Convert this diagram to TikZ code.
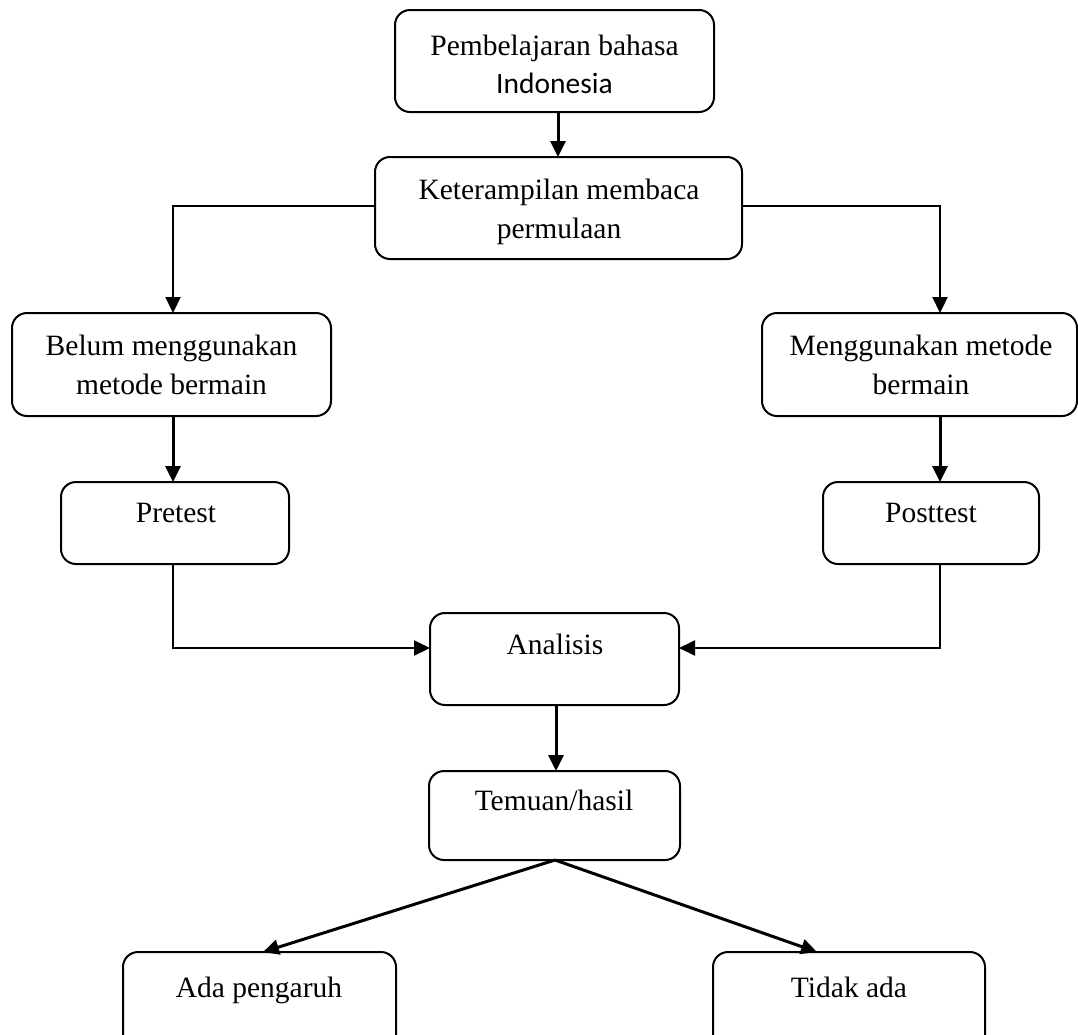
\documentclass[tikz,border=0pt]{standalone}
\usepackage{fontspec}
\setmainfont{Liberation Serif}
\newfontfamily\calfont{Carlito}
\usetikzlibrary{arrows.meta,calc}
\begin{document}
\begin{tikzpicture}[x=1pt,y=-1pt,
  box/.style={draw=black,line width=2pt,rounded corners=15pt,inner sep=0pt,outer sep=0pt},
  txt/.style={anchor=base,inner sep=0pt,font=\fontsize{29.5}{38}\selectfont},
  conn/.style={draw=black,line width=2.2pt,-{Triangle[length=16pt,width=15pt]}},
  arr/.style={draw=black,line width=3pt,-{Triangle[length=16pt,width=15pt]}}]
\useasboundingbox (0,0) rectangle (1078,1034);
\clip (0,0) rectangle (1078,1034);
% boxes
\node[box,minimum width=319pt,minimum height=102pt] (b1) at (554.5,61) {};
\node[box,minimum width=367pt,minimum height=102pt] (b2) at (558.5,208) {};
\node[box,minimum width=319pt,minimum height=103pt] (b3) at (171.5,364.5) {};
\node[box,minimum width=315pt,minimum height=103pt] (b4) at (919.5,364.5) {};
\node[box,minimum width=228pt,minimum height=82pt] (pre) at (175,523) {};
\node[box,minimum width=216pt,minimum height=82pt] (post) at (931,523) {};
\node[box,minimum width=249pt,minimum height=92pt] (ana) at (554.5,659) {};
\node[box,minimum width=251pt,minimum height=89pt] (tem) at (554.5,815.5) {};
\node[box,minimum width=273pt,minimum height=100pt] (ada) at (259.5,1002) {};
\node[box,minimum width=272pt,minimum height=100pt] (tid) at (849,1002) {};
% texts
\node[txt] (t1a) at (554.5,55) {Pembelajaran bahasa};
\node[txt] (t1b) at (554.5,93) {\calfont Indonesia};
\node[txt] (t2a) at (559,199) {Keterampilan membaca};
\node[txt] (t2b) at (559,238) {permulaan};
\node[txt] (t3a) at (171.5,355) {Belum menggunakan};
\node[txt] (t3b) at (171.5,394) {metode bermain};
\node[txt] (t4a) at (921,355) {Menggunakan metode};
\node[txt] (t4b) at (921,394) {bermain};
\node[txt] (tpre) at (176,522) {Pretest};
\node[txt] (tpost) at (931,522) {Posttest};
\node[txt] (tana) at (555,654) {Analisis};
\node[txt] (ttem) at (554,810) {Temuan/hasil};
\node[txt] (tada) at (259,997) {Ada pengaruh};
\node[txt] (ttid) at (849,997) {Tidak ada};
% connectors
\coordinate (L1) at (173,206);
\coordinate (R1) at (940,206);
\coordinate (L2) at (173,648);
\coordinate (R2) at (940,648);
\draw[arr] (b1.south -| 558,0) -- (b2.north -| 558,0);
\draw[conn] (b2.west |- L1) -- (L1) -- (b3.north -| L1);
\draw[conn] (b2.east |- R1) -- (R1) -- (b4.north -| R1);
\draw[arr] (b3.south -| L1) -- (pre.north -| L1);
\draw[arr] (b4.south -| R1) -- (post.north -| R1);
\draw[conn,line width=2pt] (pre.south -| L2) -- (L2) -- (ana.west |- L2);
\draw[conn,line width=2pt] (post.south -| R2) -- (R2) -- (ana.east |- R2);
\draw[arr] (ana.south -| 556,0) -- (tem.north -| 556,0);
\draw[arr] (tem.south -| 555,0) -- ($(ada.north)+(3.5,0)$);
\draw[arr] (tem.south -| 555,0) -- ($(tid.north)+(-32,0)$);
\end{tikzpicture}
\end{document}
